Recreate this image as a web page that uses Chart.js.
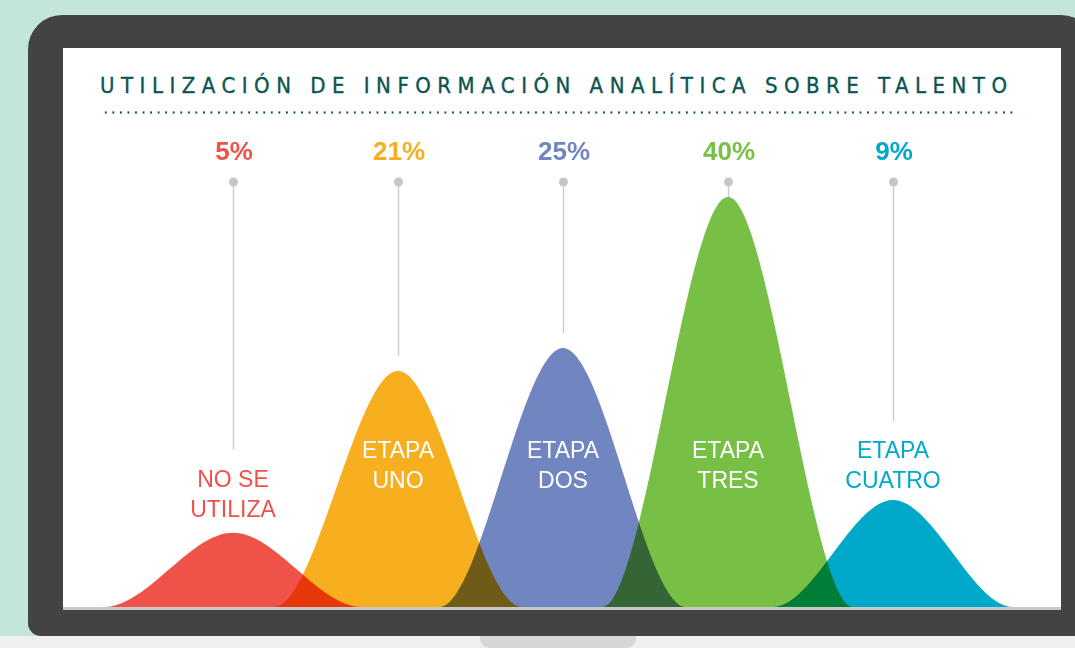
<!DOCTYPE html>
<html>
<head>
<meta charset="utf-8">
<script src="https://cdn.jsdelivr.net/npm/chart.js@4.4.1/dist/chart.umd.min.js"></script>
<style>
  html, body { margin:0; padding:0; }
  body { width:1075px; height:648px; position:relative; overflow:hidden; background:#c4e5da; font-family:"Liberation Sans", Arial, sans-serif; }
  #floor { position:absolute; left:0; top:636px; width:1075px; height:12px; background:#efefef; }
  #stand { position:absolute; left:480px; top:636px; width:156px; height:12px; background:#d5d7d7; border-radius:0 0 10px 10px; }
  #frame { position:absolute; left:28px; top:15px; width:1067px; height:621px; background:#434345; border-radius:34px 34px 0 13px; }
  #screen { position:absolute; left:63px; top:48px; width:998px; height:559px; background:#ffffff; }
  #screenLine { position:absolute; left:63px; top:607px; width:998px; height:3px; background:#c9c9c9; }
  #title { position:absolute; left:100px; top:75px; height:22px; line-height:22px; font-size:22px; white-space:nowrap;
           font-family:"Liberation Sans Narrow","DejaVu Sans Condensed","Liberation Sans",sans-serif; color:#0c5552;
           -webkit-text-stroke:0.35px #0c5552; }
  #dots { position:absolute; left:102px; top:111px; width:913px; height:3px;
          background-image:radial-gradient(circle at center, #0c5552 0.9px, rgba(12,85,82,0) 1.4px);
          background-size:7.55px 3px; background-repeat:repeat-x; }
  #wrap { position:absolute; left:63px; top:48px; width:998px; height:559px; }
</style>
</head>
<body>
<div id="floor"></div>
<div id="stand"></div>
<div id="frame"></div>
<div id="screen"></div>
<div id="screenLine"></div>
<div id="title">UTILIZACIÓN DE INFORMACIÓN ANALÍTICA SOBRE TALENTO</div>
<div id="dots"></div>
<div id="wrap"><canvas id="c" width="998" height="559"></canvas></div>
<script>
// ---- data ----
const categories = ['NO SE UTILIZA', 'ETAPA UNO', 'ETAPA DOS', 'ETAPA TRES', 'ETAPA CUATRO'];
const labelLines = [['NO SE', 'UTILIZA'], ['ETAPA', 'UNO'], ['ETAPA', 'DOS'], ['ETAPA', 'TRES'], ['ETAPA', 'CUATRO']];
const percentages = [5, 21, 25, 40, 9];
const percentLabels = percentages.map(p => p + '%');
const curveCenters = [1, 2, 3, 4, 5];
const curveHeights = [18.1, 57.6, 63.2, 100, 26.1];
const curveHalfWidths = [0.78, 0.75, 0.75, 0.76, 0.73];

const colors = ['#ef5249', '#f7ae1f', '#7185c1', '#77bf45', '#00a8c9'];

// fit title width by letter spacing
(function () {
  const t = document.getElementById('title');
  const target = 907;
  const n = t.textContent.length;
  const w0 = t.getBoundingClientRect().width;
  t.style.letterSpacing = ((target - w0) / (n - 1)) + 'px';
})();

const datasets = categories.map((name, i) => {
  const c = curveCenters[i], w = curveHalfWidths[i], h = curveHeights[i];
  return {
    label: name,
    data: [{x: c - w - 0.1, y: 0}, {x: c - w, y: 0}, {x: c, y: h}, {x: c + w, y: 0}, {x: c + w + 0.1, y: 0}],
    fill: 'origin',
    backgroundColor: colors[i],
    borderColor: 'rgba(0,0,0,0)',
    borderWidth: 0,
    pointRadius: 0,
    cubicInterpolationMode: 'monotone',
    clip: false
  };
});

const DOT_Y = 134, PCT_Y = 105, LABEL_BOTTOM = 434, LINE_GAP = 30;

function labelLayout(chart, i) {
  const ys = chart.scales.y;
  const top = ys.getPixelForValue(curveHeights[i]);
  const lines = labelLines[i];
  const lastCenter = Math.max(LABEL_BOTTOM, top - 22);
  const firstCenter = lastCenter - (lines.length - 1) * LINE_GAP;
  const inside = top < firstCenter - 8;
  return {top, firstCenter, inside};
}

const artPlugin = {
  id: 'art',
  beforeDatasetsDraw(chart) {
    const ctx = chart.ctx, xs = chart.scales.x;
    ctx.save();
    categories.forEach((_, i) => {
      const x = Math.round(xs.getPixelForValue(curveCenters[i])) + 0.5;
      const L = labelLayout(chart, i);
      let end = L.inside ? L.top - 15 : Math.min(L.top - 15, L.firstCenter - 8 - 23);
      if (end - DOT_Y < 20) end = L.top;
      ctx.strokeStyle = '#cccccc';
      ctx.lineWidth = 1.4;
      ctx.beginPath(); ctx.moveTo(x, DOT_Y); ctx.lineTo(x, end); ctx.stroke();
      ctx.fillStyle = '#c6c6c6';
      ctx.beginPath(); ctx.arc(x, DOT_Y, 4.5, 0, Math.PI * 2); ctx.fill();
    });
    ctx.restore();
    ctx.save();
    ctx.globalCompositeOperation = 'multiply';
  },
  afterDatasetsDraw(chart) {
    const ctx = chart.ctx, xs = chart.scales.x;
    ctx.restore();
    ctx.save();
    ctx.textAlign = 'center';
    ctx.textBaseline = 'middle';
    categories.forEach((_, i) => {
      const x = xs.getPixelForValue(curveCenters[i]);
      ctx.fillStyle = colors[i];
      ctx.font = 'bold 26px "Liberation Sans", Arial, sans-serif';
      ctx.fillText(percentLabels[i], x + 1, PCT_Y);
      const L = labelLayout(chart, i);
      ctx.font = '23px "Liberation Sans", Arial, sans-serif';
      ctx.fillStyle = L.inside ? '#ffffff' : colors[i];
      labelLines[i].forEach((t, k) => ctx.fillText(t, x, L.firstCenter + k * LINE_GAP));
    });
    ctx.restore();
  }
};

new Chart(document.getElementById('c'), {
  type: 'line',
  data: { datasets },
  options: {
    responsive: false,
    animation: false,
    devicePixelRatio: 1,
    layout: { padding: { left: 5, right: 3, top: 149, bottom: 0 } },
    plugins: { legend: { display: false }, tooltip: { enabled: false }, title: { display: false } },
    scales: {
      x: { type: 'linear', min: 0, max: 6, display: false },
      y: { type: 'linear', min: 0, max: 100, display: false }
    }
  },
  plugins: [artPlugin]
});
</script>
</body>
</html>
